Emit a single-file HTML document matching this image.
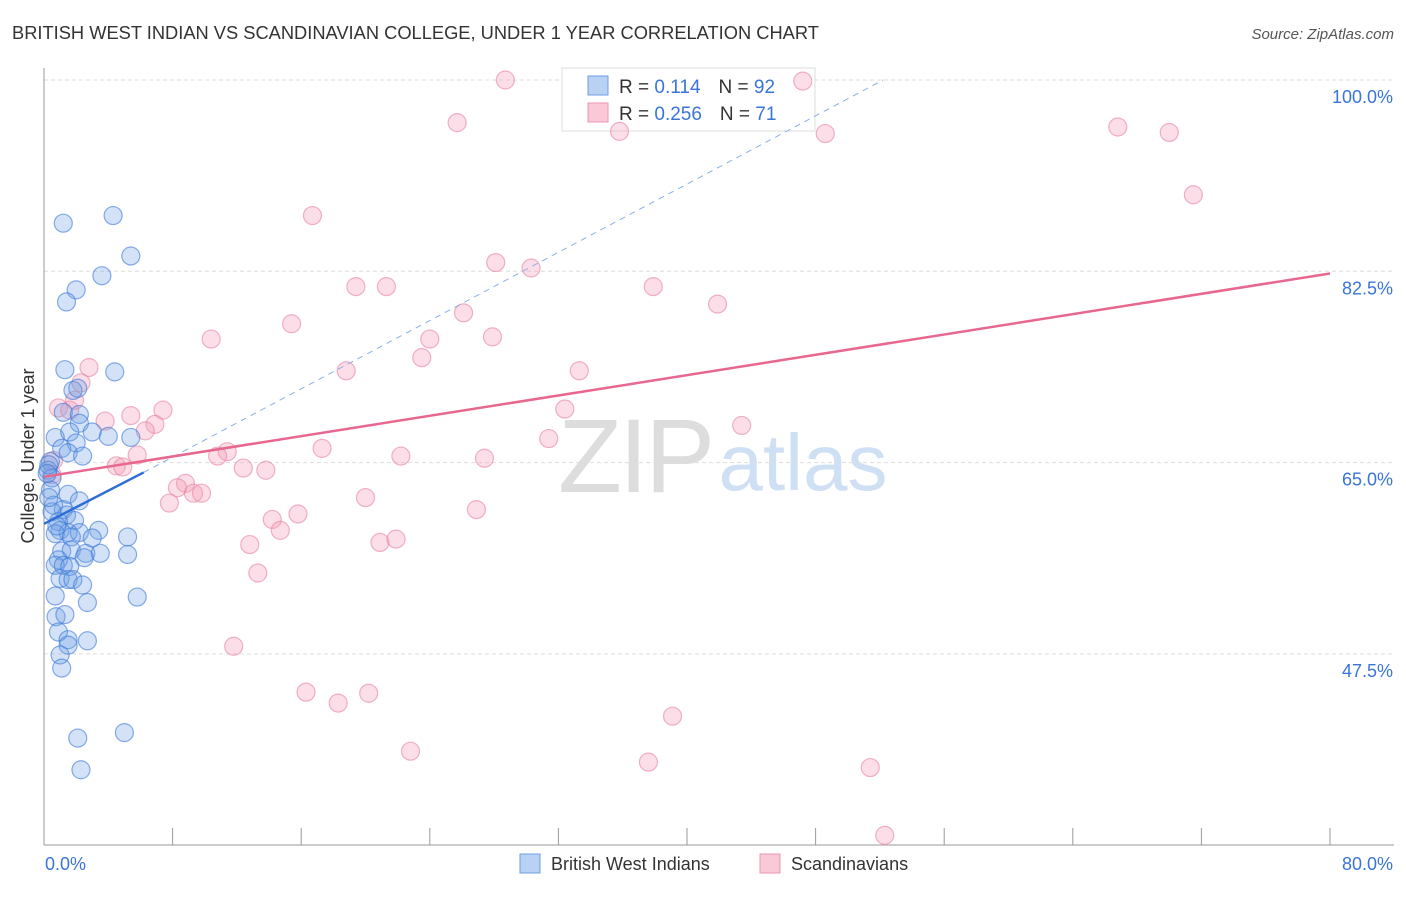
<!DOCTYPE html>
<html><head><meta charset="utf-8"><style>
body{margin:0;background:#fff;font-family:"Liberation Sans",sans-serif;}
svg text{font-family:"Liberation Sans",sans-serif;}
</style></head><body>
<svg id="chart" width="1406" height="892" xmlns="http://www.w3.org/2000/svg">
<text x="12" y="39" font-size="18.3" fill="#333">BRITISH WEST INDIAN VS SCANDINAVIAN COLLEGE, UNDER 1 YEAR CORRELATION CHART</text>
<text x="1394" y="39" font-size="15" fill="#555" font-style="italic" text-anchor="end">Source: ZipAtlas.com</text>
<g>
<text x="635" y="492" font-size="105" fill="#ddd" font-family="Liberation Serif" text-anchor="middle" letter-spacing="-3">ZIP</text>
<text x="803" y="490" font-size="80" fill="#cfe0f4" text-anchor="middle">atlas</text>
</g>
<g id="grid"></g>
<g id="axes"></g>
<g>
<rect x="562" y="68" width="253" height="63" fill="#fff" stroke="#ddd"/>
<rect x="588" y="76" width="20" height="19" fill="#b9d2f3" stroke="#6d9ee5"/>
<rect x="588" y="103" width="20" height="19" fill="#f9c9d7" stroke="#ec96b0"/>
<text x="619" y="93" font-size="19" fill="#333">R = <tspan fill="#3a75d6"> 0.114</tspan><tspan dx="18">N = </tspan><tspan fill="#3a75d6">92</tspan></text>
<text x="619" y="120" font-size="19" fill="#333">R = <tspan fill="#3a75d6">0.256</tspan><tspan dx="18">N = </tspan><tspan fill="#3a75d6"> 71</tspan></text>
</g>
<g id="pts"></g>
<g id="lines"></g>
<g>
<rect x="520" y="854" width="20" height="19" fill="#b9d2f3" stroke="#6d9ee5"/>
<text x="551" y="870" font-size="18" fill="#333">British West Indians</text>
<rect x="760" y="854" width="20" height="19" fill="#f9c9d7" stroke="#ec96b0"/>
<text x="791" y="870" font-size="18" fill="#333">Scandinavians</text>
</g>
</svg>
<script>
const yTicks=[100,82.5,65,47.5];
const xTickLabels=["0.0%","80.0%"];
const blueX=[4.3,1.2,5.4,3.6,2.0,1.4,1.3,4.4,1.8,2.1,1.2,2.2,2.2,3.0,4.0,5.4,0.7,1.6,2.0,1.1,1.5,2.4,0.4,0.25,0.5,0.4,1.5,2.2,0.6,1.2,1.4,1.9,0.9,1.0,1.5,0.7,2.2,3.4,1.7,3.0,5.2,1.1,1.7,2.6,3.5,5.2,0.9,2.5,0.7,1.2,1.6,1.0,1.5,1.8,2.4,0.7,2.7,5.8,0.75,1.3,0.9,1.5,1.5,2.7,1.0,1.1,2.1,5.0,2.3,0.3,0.2,0.5,0.8,0.3];
const blueY=[87.6,86.9,83.9,82.1,80.8,79.7,73.5,73.3,71.6,71.8,69.6,69.4,68.6,67.8,67.4,67.3,67.3,67.8,66.8,66.3,65.9,65.6,65.1,64.3,63.6,62.5,62.1,61.5,61.1,60.7,60.2,59.7,59.6,58.8,58.6,58.5,58.6,58.8,58.2,58.1,58.2,56.9,57.0,56.7,56.7,56.6,56.1,56.3,55.6,55.6,55.5,54.4,54.3,54.3,53.8,52.8,52.2,52.7,50.9,51.1,49.5,48.8,48.3,48.7,47.4,46.2,39.8,40.3,36.9,64.8,64.0,60.5,59.2,61.8];
const pinkX=[28.7,47.2,25.7,35.8,48.6,66.8,70.0,71.5,16.7,28.1,30.3,19.4,21.3,37.9,41.9,26.1,15.4,10.4,24.0,27.9,23.5,18.8,33.3,2.8,2.3,0.9,1.6,1.9,5.4,7.4,32.4,6.9,6.3,3.8,43.4,31.4,17.3,11.4,10.8,5.8,22.2,27.4,4.5,4.9,12.4,13.8,8.8,8.3,9.3,9.8,7.8,20.0,26.9,15.8,14.2,14.7,20.9,21.9,12.8,13.3,11.8,16.3,18.3,20.2,39.1,22.8,37.6,51.4,52.3,0.6,0.5];
const pinkY=[100,99.9,96.1,95.3,95.1,95.7,95.2,89.5,87.6,83.3,82.8,81.1,81.1,81.1,79.5,78.7,77.7,76.3,76.3,76.5,74.6,73.4,73.4,73.7,72.3,70.0,69.8,70.7,69.3,69.8,69.9,68.5,67.9,68.8,68.4,67.2,66.3,66.0,65.6,65.7,65.6,65.4,64.7,64.6,64.5,64.3,63.1,62.7,62.2,62.2,61.3,61.8,60.7,60.3,59.8,58.8,57.7,58.0,57.5,54.9,48.2,44.0,43.0,43.9,41.8,38.6,37.6,37.1,30.9,65.2,63.9];
const blueTrend=[[0,59.4],[6.2,64.1]];
const blueDash=[[6.2,64.1],[52.2,100]];
const pinkTrend=[[0,63.7],[80,82.3]];
const NS="http://www.w3.org/2000/svg";
const X=v=>44+v/80*1286;
const Y=v=>80+(100-v)*(191.3/17.5);
function mk(tag,attrs,parent){const e=document.createElementNS(NS,tag);for(const k in attrs)e.setAttribute(k,attrs[k]);document.getElementById(parent).appendChild(e);return e;}
yTicks.forEach(t=>{
 const l=mk('line',{x1:44,x2:1394,y1:Y(t),y2:Y(t),stroke:'#ddd','stroke-dasharray':'4,3'},'grid');
 
 
 const tx=mk('text',{x:1393,y:Y(t)+23,'font-size':18,fill:'#3a75d6','text-anchor':'end'},'grid');
 tx.textContent=t.toFixed(1)+'%';
 
 
});
const ax=mk('line',{x1:44,x2:44,y1:68,y2:845,stroke:'#999'},'axes');


const bx=mk('line',{x1:44,x2:1394,y1:845,y2:845,stroke:'#999'},'axes');


for(let i=1;i<=10;i++){const t=mk('line',{x1:X(i*8),x2:X(i*8),y1:828,y2:845,stroke:'#999'},'axes');
 
 }
const xl0=mk('text',{x:45,y:870,'font-size':18,fill:'#3a75d6'},'axes');xl0.textContent=xTickLabels[0];


const xl1=mk('text',{x:1393,y:870,'font-size':18,fill:'#3a75d6','text-anchor':'end'},'axes');xl1.textContent=xTickLabels[1];


const yt=mk('text',{x:0,y:0,'font-size':18,fill:'#333','text-anchor':'middle',transform:'translate(34,456) rotate(-90)'},'axes');yt.textContent='College, Under 1 year';


pinkX.forEach((x,i)=>{const c=mk('circle',{cx:X(x),cy:Y(pinkY[i]),r:9,fill:'rgba(244,160,185,0.35)',stroke:'rgba(232,130,160,0.6)','stroke-width':1.2},'pts');
 
 });
blueX.forEach((x,i)=>{const c=mk('circle',{cx:X(x),cy:Y(blueY[i]),r:9,fill:'rgba(110,160,230,0.3)',stroke:'rgba(60,120,215,0.6)','stroke-width':1.2},'pts');
 
 });
const d=mk('line',{x1:X(blueDash[0][0]),y1:Y(blueDash[0][1]),x2:X(blueDash[1][0]),y2:Y(blueDash[1][1]),stroke:'#8ab0e6','stroke-dasharray':'6,5','stroke-width':1},'lines');


const b=mk('line',{x1:X(blueTrend[0][0]),y1:Y(blueTrend[0][1]),x2:X(blueTrend[1][0]),y2:Y(blueTrend[1][1]),stroke:'#2e6fd6','stroke-width':2.5},'lines');


const p=mk('line',{x1:X(pinkTrend[0][0]),y1:Y(pinkTrend[0][1]),x2:X(pinkTrend[1][0]),y2:Y(pinkTrend[1][1]),stroke:'#e8678f','stroke-width':2.5},'lines');


</script>
</body></html>
